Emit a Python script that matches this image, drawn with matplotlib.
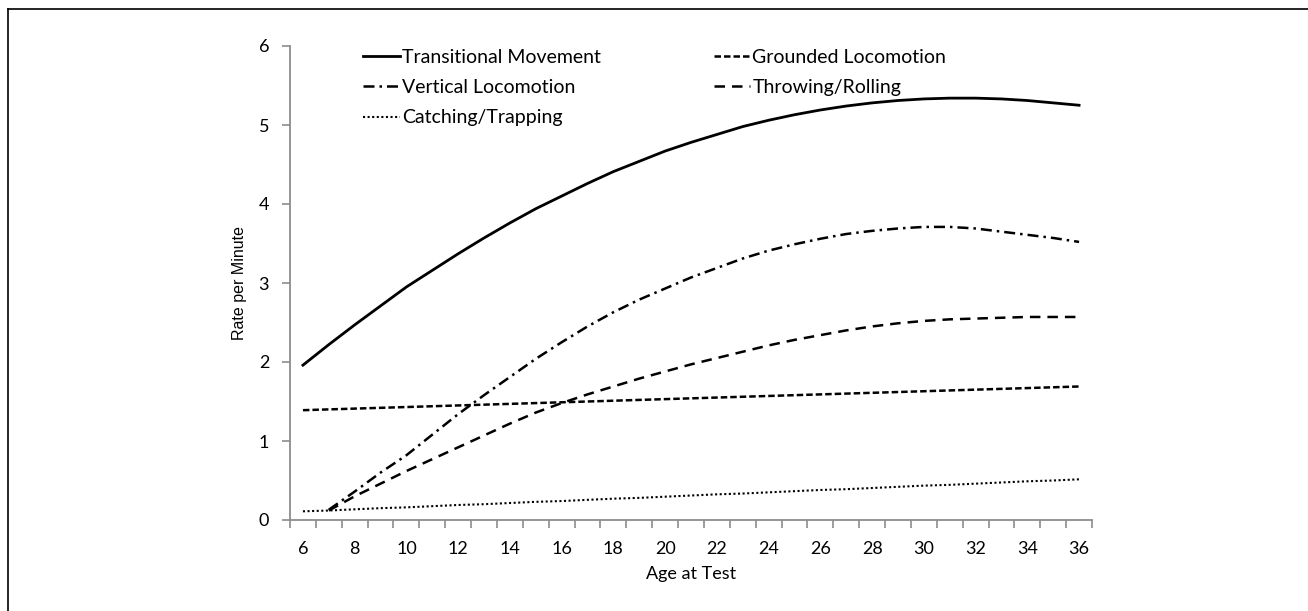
import matplotlib
matplotlib.use('Agg')
import matplotlib.pyplot as plt
from matplotlib.lines import Line2D

plt.rcParams['font.family'] = ['Lato', 'DejaVu Sans']

# idade no teste (meses)
ages = list(range(6, 37))
ages_late = list(range(7, 37))

transitional = [1.96, 2.22, 2.47, 2.71, 2.95, 3.16, 3.37, 3.57, 3.76, 3.94,
                4.10, 4.26, 4.41, 4.54, 4.67, 4.78, 4.88, 4.98, 5.06, 5.13,
                5.19, 5.24, 5.28, 5.31, 5.33, 5.34, 5.34, 5.33, 5.31, 5.28, 5.25]
grounded = [1.39, 1.40, 1.41, 1.42, 1.43, 1.44, 1.45, 1.46, 1.47, 1.48,
            1.49, 1.50, 1.51, 1.52, 1.53, 1.54, 1.55, 1.56, 1.57, 1.58,
            1.59, 1.60, 1.61, 1.62, 1.63, 1.64, 1.65, 1.66, 1.67, 1.68, 1.69]
catching = [0.11, 0.12, 0.135, 0.15, 0.16, 0.175, 0.19, 0.20, 0.215, 0.23,
            0.24, 0.255, 0.27, 0.28, 0.295, 0.31, 0.325, 0.335, 0.35, 0.365,
            0.38, 0.39, 0.405, 0.42, 0.435, 0.445, 0.46, 0.475, 0.49, 0.50, 0.515]
vertical = [0.13, 0.36, 0.60, 0.82, 1.08, 1.34, 1.58, 1.81, 2.04, 2.25,
            2.45, 2.63, 2.79, 2.93, 3.07, 3.19, 3.31, 3.41, 3.49, 3.56,
            3.62, 3.66, 3.69, 3.71, 3.71, 3.69, 3.65, 3.61, 3.57, 3.52]
throwing = [0.12, 0.30, 0.46, 0.62, 0.77, 0.92, 1.07, 1.22, 1.36, 1.48,
            1.59, 1.69, 1.79, 1.88, 1.97, 2.05, 2.13, 2.21, 2.28, 2.34,
            2.40, 2.45, 2.49, 2.52, 2.54, 2.55, 2.56, 2.57, 2.57, 2.57]

fig = plt.figure(figsize=(13.08, 6.11), dpi=100)
ax = fig.add_axes([290/1308, 1 - 520/611, 802/1308, 474/611])

lw = 1.8
ax.plot(ages, transitional, color='black', lw=2.0, ls='-',
        label='Transitional Movement')
ax.plot(ages_late, vertical, color='black', lw=lw, ls=(0, (4.4, 2.0, 1.0, 2.0)),
        label='Vertical Locomotion')
ax.plot(ages, catching, color='black', lw=1.5, ls=(0, (1.0, 1.2)),
        label='Catching/Trapping')
ax.plot(ages, grounded, color='black', lw=lw, ls=(0, (2.6, 1.2)),
        label='Grounded Locomotion')
ax.plot(ages_late, throwing, color='black', lw=lw, ls=(0, (4.2, 2.8)),
        label='Throwing/Rolling')

ax.set_xlim(5.5, 36.5)
ax.set_ylim(0, 6)

for s in ['top', 'right']:
    ax.spines[s].set_visible(False)
for s in ['left', 'bottom']:
    ax.spines[s].set_color('#8c8c8c')
    ax.spines[s].set_linewidth(1.3)

# ticks de categoria nas bordas, rótulos nos centros pares
ax.set_xticks([a - 0.5 for a in ages] + [36.5])
ax.set_xticklabels([])
ax.set_xticks(ages[::2], minor=True)
ax.set_xticklabels([str(a) for a in ages[::2]], minor=True)
ax.tick_params(axis='x', which='major', length=6, width=1.2, color='#8c8c8c',
               direction='out')
ax.tick_params(axis='x', which='minor', length=0, pad=15, labelsize=13)
ax.set_yticks([0, 1, 2, 3, 4, 5, 6])
ax.tick_params(axis='y', length=6, width=1.2, color='#8c8c8c', direction='out',
               pad=9, labelsize=13)

ax.set_xlabel('Age at Test', fontsize=13)
ax.xaxis.set_label_coords(0.5, -0.097)
ax.set_ylabel('Rate per Minute', fontsize=11.5, family='Liberation Sans')
ax.yaxis.set_label_coords(-0.053, 0.5)

handles, labels = ax.get_legend_handles_labels()
ax.legend(handles, labels, ncol=2, frameon=False, loc='upper left',
          bbox_to_anchor=(363/1308, 1 - 49/611), bbox_transform=fig.transFigure,
          fontsize=14, handlelength=1.9, handletextpad=0.1,
          columnspacing=5.8, labelspacing=0.68, borderaxespad=0, borderpad=0)

# moldura da figura
fig.add_artist(Line2D([8/1308, 8/1308], [0, 1 - 9/611], color='black', lw=1.2))
fig.add_artist(Line2D([8/1308, 1], [1 - 9/611, 1 - 9/611], color='black', lw=1.2))

fig.savefig('out.png', dpi=100)
